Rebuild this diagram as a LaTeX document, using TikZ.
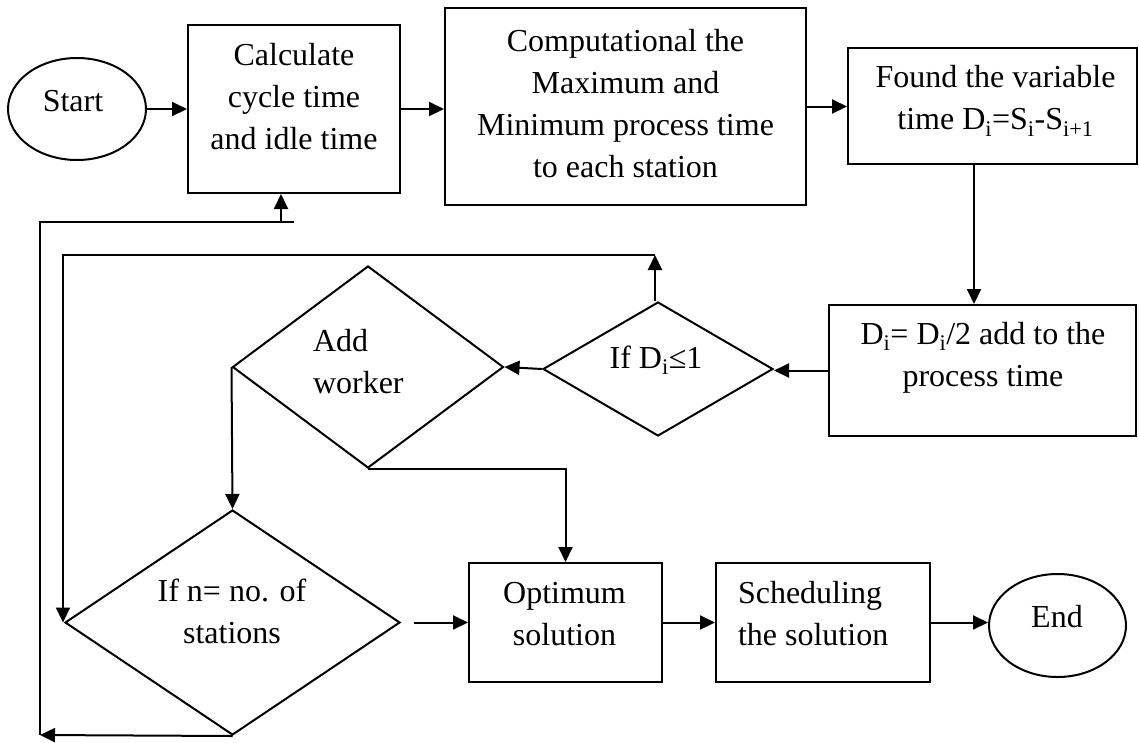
\documentclass[tikz,border=0pt]{standalone}
\usepackage{fontspec}
\setmainfont{Liberation Serif}
\usetikzlibrary{shapes.geometric,arrows.meta}
\tikzset{
  box/.style={draw, rectangle, inner sep=0pt, line width=2pt},
  oval/.style={draw, ellipse, inner sep=0pt, line width=2pt},
  dmd/.style={draw, diamond, inner sep=0pt, line width=2pt},
  txt/.style={inner sep=0pt, align=center, font={\fontsize{32}{42}\selectfont}},
  ltxt/.style={inner sep=0pt, align=left, anchor=west, font={\fontsize{32}{42}\selectfont}},
  arr/.style={line width=2pt, -{Triangle[length=15pt,width=14pt]}}
}
\begin{document}
\begin{tikzpicture}[x=1pt,y=-1pt,line width=2pt]
\useasboundingbox (0,0) rectangle (1139,742);
% shapes
\node[oval, minimum width=138pt, minimum height=102pt] (start) at (77,109) {};
\node[box, minimum width=212pt, minimum height=168pt] (calc) at (294,109) {};
\node[box, minimum width=361pt, minimum height=197pt] (comp) at (625.5,106.5) {};
\node[box, minimum width=289pt, minimum height=116pt] (found) at (992.5,106) {};
\node[box, minimum width=307pt, minimum height=131pt] (di) at (982.5,370.5) {};
\node[dmd, minimum width=230pt, minimum height=134pt] (ifd) at (658,369) {};
\node[dmd, minimum width=271pt, minimum height=202pt] (add) at (368,367) {};
\node[dmd, minimum width=335pt, minimum height=225pt] (nst) at (232.5,622.5) {};
\node[box, minimum width=193pt, minimum height=119pt] (opt) at (565.5,622.5) {};
\node[box, minimum width=214pt, minimum height=119pt] (sch) at (823,622.5) {};
\node[oval, minimum width=137pt, minimum height=103pt] (end) at (1057.5,625.5) {};
% texts
\node[txt] (tstart) at (73,101) {Start};
\node[txt] (tcalc) at (294,97) {Calculate\\cycle time\\and idle time};
\node[txt] (tcomp) at (625.5,103.5) {Computational the\\Maximum and\\Minimum process time\\to each station};
\node[txt] (tfound) at (995.5,101) {Found the variable\\time D\textsubscript{i}=S\textsubscript{i}-S\textsubscript{i+1}};
\node[txt] (tdi) at (983,358) {D\textsubscript{i}= D\textsubscript{i}/2 add to the\\process time};
\node[txt] (tifd) at (656,360) {If D\textsubscript{i}≤1};
\node[ltxt] (tadd) at (312,361.5) {Add\\worker};
\node[txt] (tnst) at (232,611.5) {If n= no. of\\stations};
\node[txt] (topt) at (564.5,614) {Optimum\\solution};
\node[ltxt] (tsch) at (737,614) {Scheduling\\the solution};
\node[txt] (tend) at (1057,617) {End};
% helper coordinates
\coordinate (tl) at (63,255);
\coordinate (bl) at (40,735);
\coordinate (tl2) at (40,222);
% connectors
\draw[arr] (start.east) -- (start.east -| calc.west);
\draw[arr] (calc.east) -- (calc.east -| comp.west);
\draw[arr] (comp.east) -- (comp.east -| found.west);
\draw[arr] ([xshift=-18.5pt]found.south) -- ([xshift=-18.5pt]found.south |- di.north);
\draw[arr] (di.west) -- (di.west -| ifd.east);
\draw[arr] (ifd.west) -- (add.east);
\draw[arr] ([xshift=-3pt]ifd.north) -- ([xshift=-3pt]ifd.north |- tl);
\draw[arr] ([xshift=-3pt]ifd.north |- tl) -- (tl) -- (tl |- nst.west);
\draw[arr] (add.west) -- (nst.north);
\draw[arr] (add.south) -- (add.south -| opt.north) -- (opt.north);
\draw[arr] ([xshift=13pt]nst.east) -- (opt.west);
\draw[arr] (opt.east) -- (sch.west);
\draw[arr] (sch.east) -- (sch.east -| end.west);
\draw[arr] (nst.south) -- (bl);
\draw[arr] (bl) -- (tl2) -- (tl2 -| calc.south) ++(-13,0) coordinate (cb) -- (cb |- calc.south);
\end{tikzpicture}
\end{document}
